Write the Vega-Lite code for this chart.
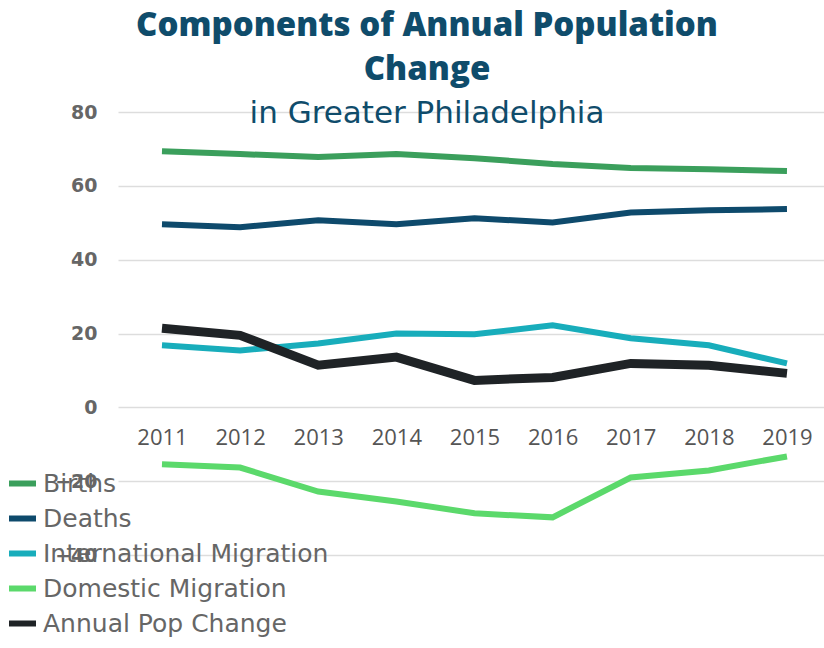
{
  "$schema": "https://vega.github.io/schema/vega-lite/v6.json",
  "autosize": {"type": "none"},
  "width": 706,
  "height": 443,
  "padding": {"left": 118, "top": 112, "right": 0, "bottom": 93},
  "background": "white",
  "title": {
    "text": ["Components of Annual Population", "Change"],
    "subtitle": "in Greater Philadelphia",
    "anchor": "middle",
    "dx": -44,
    "offset": -26,
    "font": "Open Sans",
    "fontWeight": 800,
    "fontSize": 33,
    "lineHeight": 44,
    "color": "#0f4c6b",
    "subtitleFont": "DejaVu Sans",
    "subtitleFontSize": 31,
    "subtitleFontWeight": 400,
    "subtitleColor": "#0f4c6b",
    "subtitlePadding": 12
  },
  "data": {
    "values": [
      {"year": 2011, "series": "Births", "value": 69.4},
      {"year": 2012, "series": "Births", "value": 68.6},
      {"year": 2013, "series": "Births", "value": 67.8},
      {"year": 2014, "series": "Births", "value": 68.6},
      {"year": 2015, "series": "Births", "value": 67.5},
      {"year": 2016, "series": "Births", "value": 65.9},
      {"year": 2017, "series": "Births", "value": 64.8},
      {"year": 2018, "series": "Births", "value": 64.5},
      {"year": 2019, "series": "Births", "value": 64.0},
      {"year": 2011, "series": "Deaths", "value": 49.6},
      {"year": 2012, "series": "Deaths", "value": 48.8},
      {"year": 2013, "series": "Deaths", "value": 50.7},
      {"year": 2014, "series": "Deaths", "value": 49.6},
      {"year": 2015, "series": "Deaths", "value": 51.2},
      {"year": 2016, "series": "Deaths", "value": 50.1},
      {"year": 2017, "series": "Deaths", "value": 52.8},
      {"year": 2018, "series": "Deaths", "value": 53.4},
      {"year": 2019, "series": "Deaths", "value": 53.7},
      {"year": 2011, "series": "International Migration", "value": 16.8},
      {"year": 2012, "series": "International Migration", "value": 15.4},
      {"year": 2013, "series": "International Migration", "value": 17.3},
      {"year": 2014, "series": "International Migration", "value": 20.0},
      {"year": 2015, "series": "International Migration", "value": 19.8},
      {"year": 2016, "series": "International Migration", "value": 22.2},
      {"year": 2017, "series": "International Migration", "value": 18.7},
      {"year": 2018, "series": "International Migration", "value": 16.8},
      {"year": 2019, "series": "International Migration", "value": 11.9},
      {"year": 2011, "series": "Domestic Migration", "value": -15.4},
      {"year": 2012, "series": "Domestic Migration", "value": -16.3},
      {"year": 2013, "series": "Domestic Migration", "value": -22.8},
      {"year": 2014, "series": "Domestic Migration", "value": -25.5},
      {"year": 2015, "series": "Domestic Migration", "value": -28.7},
      {"year": 2016, "series": "Domestic Migration", "value": -29.8},
      {"year": 2017, "series": "Domestic Migration", "value": -19.0},
      {"year": 2018, "series": "Domestic Migration", "value": -17.1},
      {"year": 2019, "series": "Domestic Migration", "value": -13.3},
      {"year": 2011, "series": "Annual Pop Change", "value": 21.4},
      {"year": 2012, "series": "Annual Pop Change", "value": 19.5},
      {"year": 2013, "series": "Annual Pop Change", "value": 11.4},
      {"year": 2014, "series": "Annual Pop Change", "value": 13.6},
      {"year": 2015, "series": "Annual Pop Change", "value": 7.3},
      {"year": 2016, "series": "Annual Pop Change", "value": 8.1},
      {"year": 2017, "series": "Annual Pop Change", "value": 11.9},
      {"year": 2018, "series": "Annual Pop Change", "value": 11.4},
      {"year": 2019, "series": "Annual Pop Change", "value": 9.2}
    ]
  },
  "mark": {"type": "line", "strokeCap": "butt", "strokeJoin": "miter"},
  "encoding": {
    "x": {
      "field": "year",
      "type": "quantitative",
      "scale": {"domain": [2010.437, 2019.474], "nice": false, "zero": false},
      "axis": {
        "title": null,
        "values": [2011, 2012, 2013, 2014, 2015, 2016, 2017, 2018, 2019],
        "format": "d",
        "grid": false,
        "domain": false,
        "ticks": false,
        "offset": -148,
        "labelPadding": 20,
        "labelFont": "Open Sans",
        "labelFontSize": 22,
        "labelColor": "#555555",
        "labelFlush": false,
        "labelOverlap": false
      }
    },
    "y": {
      "field": "value",
      "type": "quantitative",
      "scale": {"domain": [-40, 80], "nice": false},
      "axis": {
        "title": null,
        "values": [-40, -20, 0, 20, 40, 60, 80],
        "grid": true,
        "gridColor": "#dddddd",
        "gridWidth": 1.5,
        "domain": false,
        "ticks": false,
        "labelPadding": 21,
        "labelFont": "DejaVu Sans",
        "labelFontWeight": "bold",
        "labelFontSize": 19,
        "labelColor": "#666666"
      }
    },
    "color": {
      "field": "series",
      "type": "nominal",
      "sort": ["Births", "Deaths", "International Migration", "Domestic Migration", "Annual Pop Change"],
      "scale": {
        "domain": ["Births", "Deaths", "International Migration", "Domestic Migration", "Annual Pop Change"],
        "range": ["#3b9f5c", "#0e4a6c", "#18adbb", "#5bd96b", "#1f2326"]
      },
      "legend": {
        "title": null,
        "orient": "none",
        "legendX": -112,
        "legendY": 355,
        "symbolType": "stroke",
        "symbolStrokeWidth": 6,
        "symbolSize": 729,
        "labelFont": "DejaVu Sans",
        "labelFontSize": 25,
        "labelColor": "#666666",
        "labelOffset": 4,
        "rowPadding": 5,
        "labelLimit": 0
      }
    },
    "strokeWidth": {
      "condition": {"test": "datum.series === 'Annual Pop Change'", "value": 9},
      "value": 6
    }
  },
  "config": {"view": {"stroke": null}}
}
